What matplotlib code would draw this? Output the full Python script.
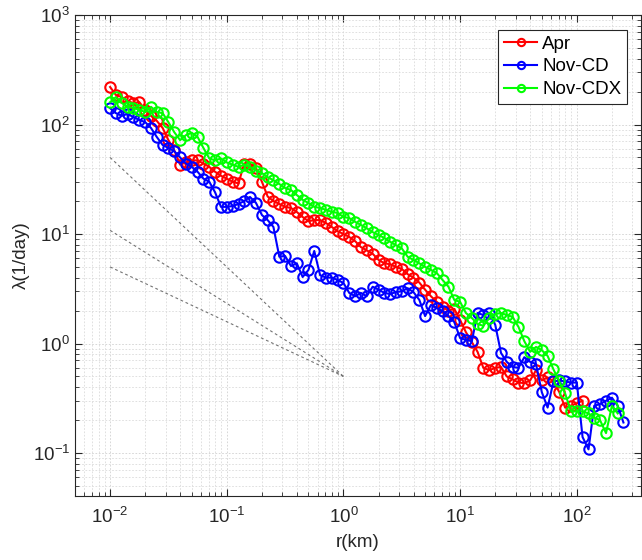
import matplotlib
matplotlib.use("Agg")
import matplotlib.pyplot as plt

plt.rcParams["font.family"] = ["Liberation Sans", "DejaVu Sans"]
plt.rcParams["mathtext.fontset"] = "custom"
plt.rcParams["mathtext.rm"] = "Liberation Sans"
plt.rcParams["mathtext.it"] = "Liberation Sans:italic"
plt.rcParams["axes.unicode_minus"] = False

# bin centres (km), 20 bins per decade
r = [0.01, 0.0112, 0.0126, 0.0141, 0.0158, 0.0178, 0.02, 0.0224, 0.0251, 0.0282,
     0.0316, 0.0355, 0.0398, 0.0447, 0.0501, 0.0562, 0.0631, 0.0708, 0.0794, 0.0891,
     0.1, 0.112, 0.126, 0.141, 0.158, 0.178, 0.2, 0.224, 0.251, 0.282,
     0.316, 0.355, 0.398, 0.447, 0.501, 0.562, 0.631, 0.708, 0.794, 0.891,
     1.0, 1.12, 1.26, 1.41, 1.58, 1.78, 2.0, 2.24, 2.51, 2.82,
     3.16, 3.55, 3.98, 4.47, 5.01, 5.62, 6.31, 7.08, 7.94, 8.91,
     10.0, 11.2, 12.6, 14.1, 15.8, 17.8, 20.0, 22.4, 25.1, 28.2,
     31.6, 35.5, 39.8, 44.7, 50.1, 56.2, 63.1, 70.8, 79.4, 89.1,
     100.0, 112.0, 126.0, 141.0, 158.0, 178.0, 200.0, 224.0, 251.0]

apr = [220, 186, 178, 164, 157, 160, 136, 120, 108, 93,
       72, 58, 43, 45, 47, 47, 44, 41, 37, 34,
       32, 30, 29, 44, 44, 40, 30, 22, 20, 18.8,
       17.7, 17.3, 15.9, 14.3, 13.1, 13.4, 13.4, 12.6, 11.6, 10.6,
       10.0, 9.4, 8.6, 7.6, 7.1, 6.6, 5.8, 5.4, 5.3, 5.0,
       4.8, 4.3, 4.0, 3.6, 3.1, 2.7, 2.4, 2.15, 2.0, 2.07,
       1.64, 1.27, 1.03, 0.84, 0.60, 0.57, 0.60, 0.61, 0.50, 0.47,
       0.44, 0.435, 0.46, 0.57, 0.46, 0.49, 0.45, 0.36, 0.26, 0.27,
       0.285, 0.30]

nov_cd = [141, 127, 120, 125, 117, 110, 105, 93, 77, 65,
          61, 57, 50, 44, 41, 37, 32, 30, 24, 17.7,
          17.7, 18.0, 18.8, 20, 21.8, 19.2, 14.9, 13.4, 11.6, 6.2,
          6.3, 5.1, 5.4, 4.05, 4.7, 7.0, 4.2, 4.0, 4.0, 3.8,
          3.57, 2.9, 2.7, 2.9, 2.7, 3.3, 3.1, 2.9, 2.83, 2.95,
          3.0, 3.2, 2.95, 2.5, 1.78, 2.25, 2.1, 1.98, 1.78, 1.57,
          1.12, 1.08, 1.05, 1.9, 1.82, 1.9, 1.48, 0.82, 0.68, 0.61,
          0.60, 0.75, 0.68, 0.65, 0.36, 0.26, 0.45, 0.46, 0.45, 0.44,
          0.44, 0.14, 0.108, 0.27, 0.28, 0.30, 0.32, 0.27, 0.19]

nov_cdx = [160, 178, 157, 145, 142, 136, 130, 145, 130, 127,
           105, 85, 72, 80, 84, 77, 61, 49, 47, 49,
           45, 43, 41, 43, 41, 38, 36, 33, 31, 28.6,
           26.3, 25.2, 22.7, 20.5, 19.2, 17.7, 17.3, 16.6, 15.9, 15.6,
           14.3, 14.0, 12.9, 12.1, 11.3, 10.4, 9.8, 9.2, 8.5, 7.9,
           7.4, 6.2, 5.8, 5.4, 5.0, 4.7, 4.4, 3.8, 3.3, 2.5,
           2.4, 1.9, 1.71, 1.51, 1.45, 1.71, 1.86, 1.9, 1.82, 1.75,
           1.42, 1.05, 0.84, 0.93, 0.87, 0.77, 0.58, 0.45, 0.35, 0.24,
           0.24, 0.24, 0.23, 0.21, 0.20, 0.152, 0.27, 0.23]

# guide lines: slopes -1, -2/3, -1/2 meeting at (1, 0.5)
guide_r = [0.01, 1.0]
guide_start = [50, 10.8, 5]
guide_end = 0.5

fig = plt.figure(figsize=(6.42, 5.6), dpi=100)
ax = fig.add_axes([75 / 642, 64 / 560, 566 / 642, 481 / 560])

for g in guide_start:
    ax.plot(guide_r, [g, guide_end], color="0.45", lw=0.8, dashes=(2.5, 2.5))

series = [("Apr", apr, "#ff0000"), ("Nov-CD", nov_cd, "#0000ff"), ("Nov-CDX", nov_cdx, "#00ff00")]
for name, vals, c in series:
    ax.plot(r[:len(vals)], vals, "-o", color=c, lw=1.5, ms=7.5, mew=1.5,
            mfc="none", label=name)

ax.set_xscale("log")
ax.set_yscale("log")
ax.set_xlim(0.005, 355)
ax.set_ylim(0.0405, 1000)

ax.grid(True, which="major", color="0.82", lw=0.6, dashes=(2, 2))
ax.grid(True, which="minor", color="0.86", lw=0.6, dashes=(2, 2))
ax.set_axisbelow(True)

for s in ax.spines.values():
    s.set_color("0.15")
    s.set_linewidth(0.8)
ax.tick_params(which="both", direction="in", top=True, right=True, colors="0.15",
               labelsize=13.5)
ax.tick_params(which="major", length=5)
ax.tick_params(which="minor", length=3)
ax.tick_params(axis="x", which="major", pad=8)
for lab in ax.get_xticklabels() + ax.get_yticklabels():
    lab.set_color("0.15")

ax.set_xlabel("r(km)", fontsize=13.5, color="0.15", labelpad=5)
ax.set_ylabel("λ(1/day)", fontsize=13.5, color="0.15", labelpad=2)

leg = ax.legend(loc="upper right", bbox_to_anchor=(0.975, 0.969), borderaxespad=0,
                fancybox=False, framealpha=1, edgecolor="0.15", fontsize=13.5,
                handlelength=1.8, handletextpad=0.25, borderpad=0.3,
                labelspacing=0.3, markerscale=0.7)
leg.get_frame().set_linewidth(0.8)

fig.savefig("out.png", dpi=100)
